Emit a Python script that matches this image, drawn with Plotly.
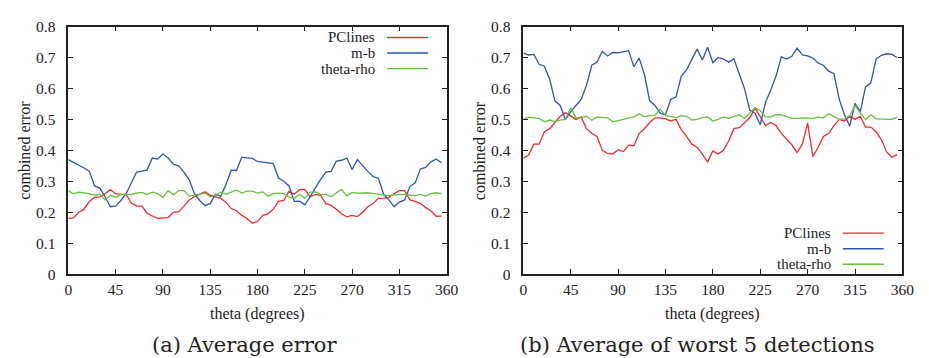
import plotly.graph_objects as go

W, H = 929, 358

theta = list(range(0, 360, 5))

# (a) Average error
avg_pclines = [0.180, 0.182, 0.200, 0.210, 0.235, 0.248, 0.250, 0.260, 0.273, 0.260,
               0.258, 0.258, 0.230, 0.220, 0.220, 0.197, 0.188, 0.180, 0.182, 0.183,
               0.200, 0.202, 0.220, 0.240, 0.250, 0.258, 0.266, 0.255, 0.250, 0.245,
               0.232, 0.212, 0.205, 0.190, 0.180, 0.165, 0.170, 0.190, 0.195, 0.210,
               0.235, 0.238, 0.268, 0.258, 0.273, 0.274, 0.250, 0.258, 0.255, 0.228,
               0.222, 0.210, 0.195, 0.185, 0.190, 0.186, 0.200, 0.218, 0.228, 0.245,
               0.246, 0.248, 0.260, 0.270, 0.270, 0.240, 0.235, 0.228, 0.215, 0.205,
               0.187, 0.188]
avg_mb = [0.370, 0.360, 0.352, 0.343, 0.333, 0.285, 0.278, 0.250, 0.218, 0.220,
          0.238, 0.260, 0.295, 0.330, 0.333, 0.337, 0.375, 0.372, 0.388, 0.375,
          0.355, 0.350, 0.330, 0.305, 0.260, 0.238, 0.222, 0.228, 0.258, 0.252,
          0.290, 0.336, 0.335, 0.378, 0.376, 0.374, 0.364, 0.362, 0.358, 0.357,
          0.310, 0.300, 0.285, 0.235, 0.236, 0.224, 0.250, 0.280, 0.306, 0.330,
          0.332, 0.365, 0.368, 0.375, 0.338, 0.370, 0.350, 0.332, 0.315, 0.310,
          0.258, 0.240, 0.218, 0.233, 0.240, 0.283, 0.295, 0.340, 0.345, 0.363,
          0.372, 0.360]
avg_thetarho = [0.270, 0.260, 0.265, 0.263, 0.260, 0.255, 0.258, 0.240, 0.255, 0.248,
                0.258, 0.258, 0.258, 0.262, 0.264, 0.257, 0.265, 0.260, 0.248, 0.270,
                0.256, 0.270, 0.270, 0.252, 0.255, 0.260, 0.262, 0.250, 0.255, 0.265,
                0.258, 0.265, 0.272, 0.262, 0.268, 0.268, 0.262, 0.266, 0.252, 0.260,
                0.262, 0.260, 0.250, 0.245, 0.258, 0.245, 0.265, 0.266, 0.258, 0.258,
                0.250, 0.262, 0.274, 0.253, 0.264, 0.262, 0.262, 0.263, 0.260, 0.258,
                0.256, 0.254, 0.256, 0.258, 0.258, 0.255, 0.254, 0.258, 0.252, 0.260,
                0.263, 0.260]

# (b) Average of worst 5 detections
worst_pclines = [0.375, 0.385, 0.420, 0.420, 0.460, 0.470, 0.490, 0.510, 0.522, 0.510,
                 0.500, 0.508, 0.470, 0.455, 0.445, 0.400, 0.390, 0.388, 0.402, 0.396,
                 0.417, 0.415, 0.455, 0.470, 0.490, 0.505, 0.505, 0.502, 0.495, 0.500,
                 0.467, 0.445, 0.420, 0.410, 0.388, 0.362, 0.398, 0.388, 0.400, 0.430,
                 0.470, 0.473, 0.490, 0.505, 0.537, 0.510, 0.480, 0.490, 0.480, 0.455,
                 0.435, 0.418, 0.393, 0.420, 0.488, 0.380, 0.410, 0.445, 0.455, 0.480,
                 0.500, 0.495, 0.510, 0.500, 0.510, 0.475, 0.475, 0.460, 0.435, 0.395,
                 0.378, 0.386]
worst_mb = [0.715, 0.708, 0.710, 0.678, 0.672, 0.630, 0.560, 0.545, 0.500, 0.525,
            0.545, 0.565, 0.610, 0.675, 0.685, 0.720, 0.705, 0.716, 0.715, 0.718,
            0.722, 0.670, 0.698, 0.645, 0.560, 0.545, 0.520, 0.515, 0.565, 0.572,
            0.640, 0.660, 0.695, 0.727, 0.692, 0.733, 0.683, 0.700, 0.695, 0.685,
            0.695, 0.645, 0.600, 0.530, 0.520, 0.483, 0.555, 0.595, 0.640, 0.702,
            0.695, 0.704, 0.730, 0.708, 0.705, 0.698, 0.682, 0.675, 0.656, 0.648,
            0.565, 0.515, 0.478, 0.552, 0.525, 0.605, 0.618, 0.695, 0.707, 0.712,
            0.710, 0.700]
worst_thetarho = [0.500, 0.507, 0.505, 0.503, 0.492, 0.498, 0.493, 0.498, 0.500, 0.537,
                  0.505, 0.505, 0.510, 0.497, 0.507, 0.505, 0.505, 0.492, 0.495, 0.500,
                  0.505, 0.508, 0.518, 0.508, 0.512, 0.513, 0.533, 0.512, 0.510, 0.505,
                  0.512, 0.510, 0.498, 0.500, 0.506, 0.508, 0.495, 0.500, 0.508, 0.503,
                  0.510, 0.515, 0.503, 0.520, 0.538, 0.528, 0.508, 0.508, 0.515, 0.515,
                  0.510, 0.503, 0.503, 0.505, 0.504, 0.503, 0.507, 0.505, 0.518, 0.510,
                  0.500, 0.502, 0.512, 0.545, 0.520, 0.500, 0.515, 0.502, 0.502, 0.500,
                  0.500, 0.507]

series_names = ["PClines", "m-b", "theta-rho"]
colors = ["#ee2c2c", "#2f55b0", "#66c043"]
x_ticks = [0, 45, 90, 135, 180, 225, 270, 315, 360]
y_ticks = [0, 0.1, 0.2, 0.3, 0.4, 0.5, 0.6, 0.7, 0.8]
captions = ["(a) Average error", "(b) Average of worst 5 detections"]

SERIF = "Liberation Serif"


def px_x(p):
    return p / W


def px_y(p):
    return 1 - p / H


fig = go.Figure()

panels = [
    ("x", "y", [avg_pclines, avg_mb, avg_thetarho]),
    ("x2", "y2", [worst_pclines, worst_mb, worst_thetarho]),
]
for xa, ya, ys in panels:
    for name, vals, col in zip(series_names, ys, colors):
        fig.add_trace(go.Scatter(x=theta, y=vals, mode="lines", name=name,
                                 line=dict(color=col, width=1.3),
                                 xaxis=xa, yaxis=ya, showlegend=False))

axis_common = dict(showgrid=False, zeroline=False, showline=True, linecolor="#222",
                   linewidth=1.5, mirror="ticks", ticks="inside", ticklen=5,
                   tickwidth=1, tickcolor="#222",
                   tickfont=dict(family=SERIF, size=15.5, color="#222"))

top, bottom = 10, 270
ydom = [px_y(bottom), px_y(top)]
fig.update_layout(
    width=W, height=H, margin=dict(l=0, r=0, t=0, b=0),
    paper_bgcolor="white", plot_bgcolor="white",
    xaxis=dict(domain=[px_x(57.3), px_x(442.3)], range=[0, 360], tickvals=x_ticks,
               anchor="y", ticklabelstandoff=0, **axis_common),
    yaxis=dict(domain=ydom, range=[0, 0.8], tickvals=y_ticks, anchor="x",
               ticklabelstandoff=8, **axis_common),
    xaxis2=dict(domain=[px_x(520.3), px_x(906)], range=[0, 360], tickvals=x_ticks,
                anchor="y2", ticklabelstandoff=0, **axis_common),
    yaxis2=dict(domain=ydom, range=[0, 0.8], tickvals=y_ticks, anchor="x2",
                ticklabelstandoff=8, **axis_common),
)

anns = []
shapes = []
# axis titles
for cx in [(57.3 + 442.3) / 2, (520.3 + 906) / 2]:
    anns.append(dict(text="theta (degrees)", x=px_x(cx), y=px_y(312), xref="paper",
                     yref="paper", xanchor="center", yanchor="middle", showarrow=False,
                     font=dict(family=SERIF, size=16, color="#222")))
for cx in [12.5, 476]:
    anns.append(dict(text="combined error", x=px_x(cx), y=px_y(140), xref="paper",
                     yref="paper", xanchor="center", yanchor="middle", showarrow=False,
                     textangle=-90, font=dict(family=SERIF, size=16, color="#222")))
# captions
for cx, cap in zip([237, 698], captions):
    anns.append(dict(text=cap, x=px_x(cx), y=px_y(344), xref="paper", yref="paper",
                     xanchor="center", yanchor="middle", showarrow=False,
                     font=dict(family="DejaVu Serif", size=21, color="#222")))

# gnuplot-style keys (text right-aligned, sample line on the right)
legend_specs = [
    (57.3, 442.3, [21.5, 37.8, 54.1]),
    (520.3, 906.0, [227.0, 243.3, 259.6]),
]
for x0, x1, rows in legend_specs:
    textr = x1 - 70.6
    l0 = x1 - 60.6
    l1 = x1 - 19.0
    for name, col, ry in zip(series_names, colors, rows):
        anns.append(dict(text=name, x=px_x(textr), y=px_y(ry), xref="paper",
                         yref="paper", xanchor="right", yanchor="middle",
                         showarrow=False,
                         font=dict(family=SERIF, size=15, color="#222")))
        shapes.append(dict(type="line", xref="paper", yref="paper",
                           x0=px_x(l0), x1=px_x(l1), y0=px_y(ry), y1=px_y(ry),
                           line=dict(color=col, width=1.3)))

fig.update_layout(annotations=anns, shapes=shapes)
fig.write_html("out.html")
